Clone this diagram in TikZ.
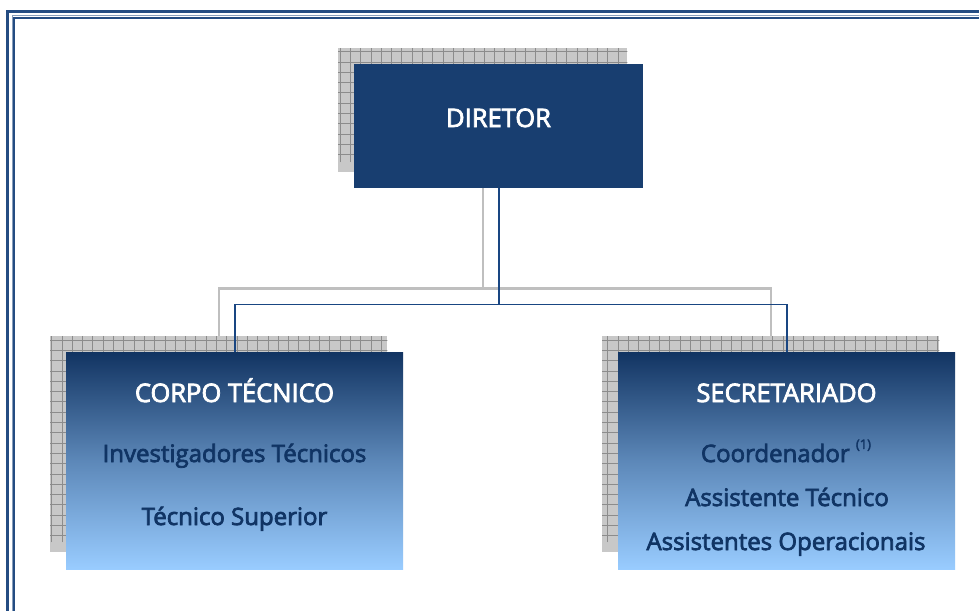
\documentclass[tikz,border=0pt]{standalone}
\usepackage{fontspec}
\setmainfont{Open Sans}
\newfontfamily\semi{Open Sans}[FakeBold=3]
\definecolor{frameblue}{RGB}{36,76,130}
\definecolor{navy}{RGB}{24,62,112}
\definecolor{conblue}{RGB}{25,70,130}
\definecolor{txtblue}{RGB}{16,52,100}
\definecolor{gradtop}{RGB}{18,52,98}
\definecolor{gradbot}{RGB}{153,204,255}
\definecolor{shfill}{RGB}{200,200,200}
\definecolor{shgrid}{RGB}{140,140,140}
\tikzset{
  shbox/.style={draw=none,fill=shfill,anchor=north west,inner sep=0pt,minimum width=#1},
  mainbox/.style={draw=none,anchor=north west,inner sep=0pt},
  conn/.style={draw=conblue,line width=1.8pt},
  shconn/.style={draw=gray!50,line width=2.2pt},
  head/.style={text=white,anchor=base,font=\semi\fontsize{25.5}{30}\selectfont},
  item/.style={text=txtblue,anchor=base,font=\semi\fontsize{24}{28}\selectfont},
}
\begin{document}
\begin{tikzpicture}[x=1pt,y=-1pt]
\useasboundingbox (0,0) rectangle (979,610);
\clip (0,0) rectangle (979,610);
\fill[white] (0,0) rectangle (979,610);
% frame
\draw[frameblue,line width=2.4pt] (7.5,11.7) rectangle (1000,640);
\draw[frameblue!55,line width=1pt] (12.0,16.0) rectangle (1000,640);
\draw[frameblue,line width=2pt] (13.6,17.6) rectangle (1000,640);
% shadow connectors
\node[shbox=289pt,minimum height=124pt] (dirsh) at (338,48) {};
\node[shbox=337pt,minimum height=216pt] (corposh) at (50,336) {};
\node[shbox=337pt,minimum height=216pt] (secsh) at (602,336) {};
\path (dirsh.south) ++(0,116) coordinate (shjunc);
\draw[shconn] (dirsh.south) -- (shjunc) -| (corposh.north);
\draw[shconn] (shjunc) -| (secsh.north);
% shadow grids
\foreach \n in {dirsh,corposh,secsh}{
  \begin{scope}
    \clip (\n.north west) rectangle (\n.south east);
    \fill[shfill] (\n.north west) rectangle (\n.south east);
    \draw[shgrid,line width=0.5pt,step=10.3pt] ([shift={(-0.2,0.2)}]\n.north west) grid ([shift={(10,-10)}]\n.south east);
  \end{scope}
}
% main boxes
\node[mainbox,fill=navy,minimum width=289pt,minimum height=124pt] (dir) at (354,64) {};
\node[mainbox,top color=gradtop,bottom color=gradbot,middle color=gradtop!45!gradbot,minimum width=337pt,minimum height=217pt] (corpo) at (66,352) {};
\node[mainbox,top color=gradtop,bottom color=gradbot,middle color=gradtop!45!gradbot,minimum width=337pt,minimum height=217pt] (sec) at (618,352) {};
% connectors
\path (dir.south) ++(0,116) coordinate (junc);
\draw[conn] (dir.south) -- (junc) -| (corpo.north);
\draw[conn] (junc) -| (sec.north);
% texts
\node[head] (tdir) at (498.5,127) {DIRETOR};
\node[head] (tcorpo) at (234.5,402) {CORPO TÉCNICO};
\node[item] (tinv) at (234.5,462) {Investigadores Técnicos};
\node[item] (tsup) at (234.5,525) {Técnico Superior};
\node[head] (tsec) at (786.5,402) {SECRETARIADO};
\node[item] (tcoord) at (786,462) {Coordenador \raisebox{0.55em}{\fontsize{13}{14}\selectfont (1)}};
\node[item] (tass) at (787,506) {Assistente Técnico};
\node[item] (tops) at (786,550) {Assistentes Operacionais};
\end{tikzpicture}
\end{document}
